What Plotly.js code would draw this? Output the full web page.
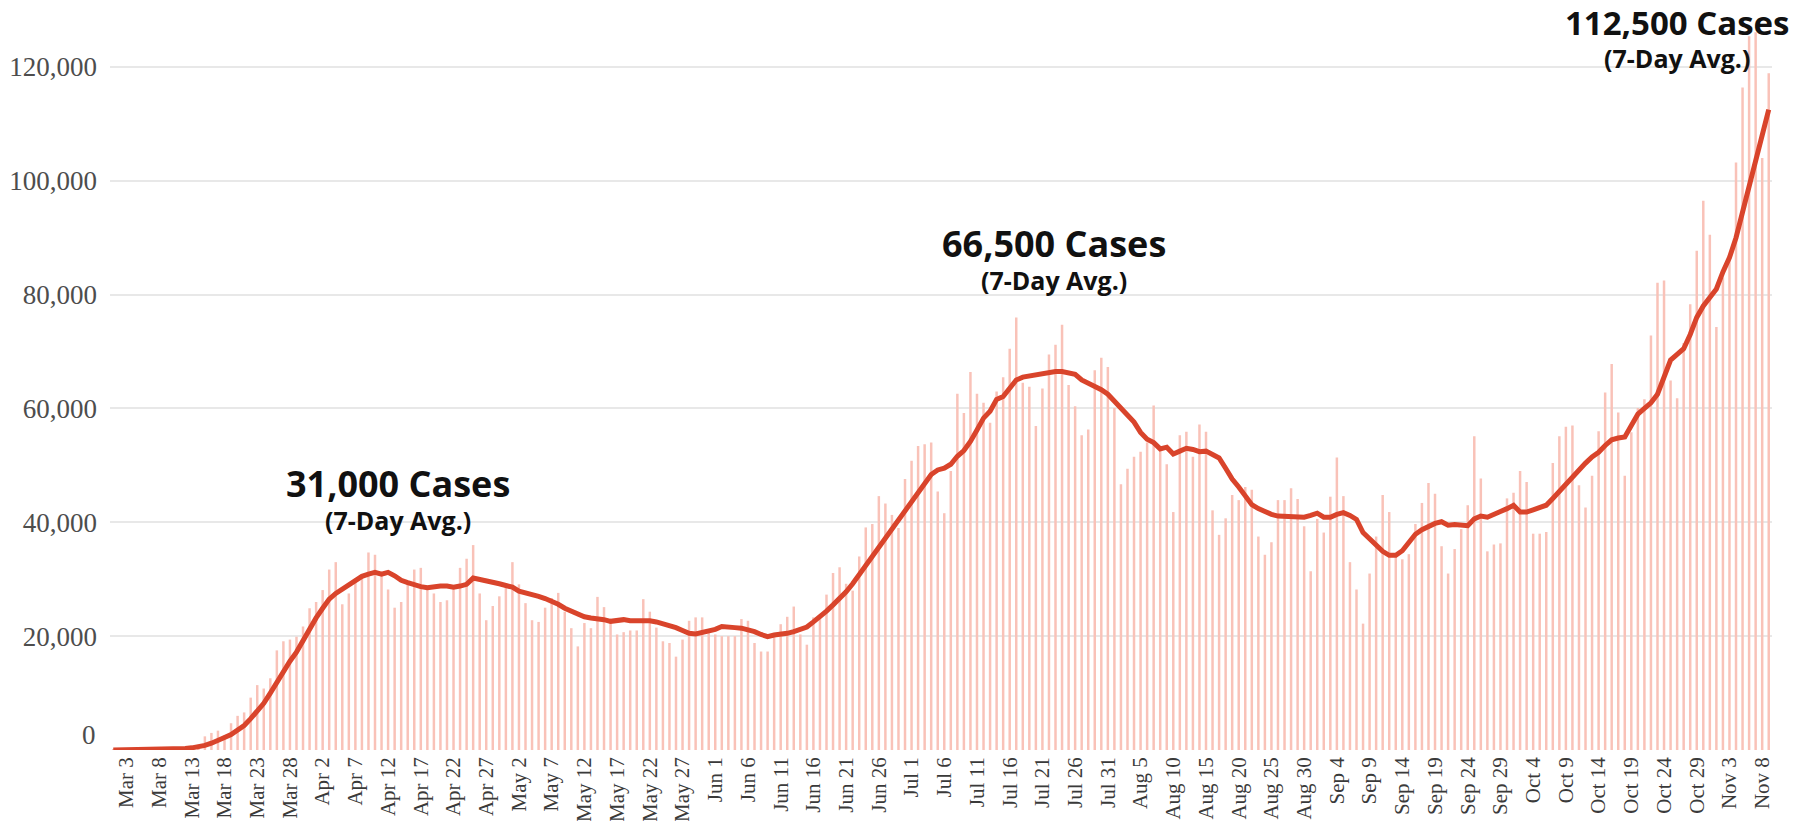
<!DOCTYPE html>
<html>
<head>
<meta charset="utf-8">
<script src="https://cdn.plot.ly/plotly-3.0.1.min.js"></script>
<style>
html,body{margin:0;padding:0;background:#fff;}
#chart{width:1799px;height:821px;}
</style>
</head>
<body>
<div id="chart"></div>
<script>
// Category labels (days)
const monthNames = ["Mar","Apr","May","Jun","Jul","Aug","Sep","Oct","Nov"];
const monthDays  = [31,30,31,30,31,31,30,31,9];

// Daily new cases
const marCases = [20,30,40,50,70,90,120,160,200,300,400,500,700,900,2400,3000,3400,2600,4700,6000,6600,9200,11400,10800,12600,17500,19100,19400,19900,21700,24900];
const aprCases = [26000,28100,31700,33000,25600,27500,30100,30900,34700,34300,31000,28200,25000,26000,29200,31700,32000,28300,27500,26000,26300,28600,32000,33600,36000,27500,22800,25300,27000,28600];
const mayCases = [33000,29100,25800,22800,22500,25000,26700,27600,24300,21400,18200,22300,21400,26900,25100,22600,20300,20700,21000,21000,26500,24300,21500,19100,18800,16400,19400,22700,23300,23300,20900];
const junCases = [20300,20000,20000,20000,23000,22700,18800,17300,17300,20300,22100,23400,25200,20300,18500,23300,23500,27300,31100,32100,29200,28000,34000,39100,39700,44600,43300,41300,39000,47600];
const julCases = [50800,53400,53700,54000,45400,41600,49000,62600,59200,66400,62600,61000,57500,63000,65500,70500,76000,64500,63800,56900,63500,69500,71200,74700,64100,60400,55300,56300,66700,68900,67300];
const augCases = [60100,46700,49400,51500,52400,54000,60500,52500,50200,41800,55300,55900,51500,57200,55900,42100,37800,40700,44800,43900,46200,45700,37500,34300,36500,43900,43900,46000,44100,39300,31400];
const sepCases = [40600,38200,44500,51400,44600,33000,28200,22200,31000,37500,44800,41800,34400,33500,34400,39700,43400,46900,45000,35800,31000,35300,38800,43000,55100,47700,34900,36100,36300,44200];
const octCases = [45200,49000,47100,38000,38000,38300,50400,55100,56800,57000,46500,42600,48200,56000,62800,67800,59300,48200,55800,60100,61600,72800,82100,82500,64900,61800,71500,78300,87700,96500,90500];
const novCases = [74300,83000,87000,103200,116400,125400,126100,104000,118900];

// 7-day average line
const marAvg = [10,15,20,25,35,45,60,80,110,150,200,280,380,500,800,1200,1600,2200,2700,3400,4300,5500,6800,8200,10000,11900,13900,15600,17200,19200,21400];
const aprAvg = [23200,24900,26500,27500,28200,29000,29800,30500,30900,31200,30900,31200,30600,29800,29400,29000,28700,28500,28700,28800,28800,28600,28800,29100,30200,30000,29700,29500,29200,28900];
const mayAvg = [28600,27900,27600,27500,27000,26600,26200,25600,24900,24400,23800,23400,23200,23100,22900,22600,22800,22900,22700,22700,22800,22700,22500,22200,22000,21500,21000,20500,20400,20600,20900];
const junAvg = [21200,21700,21700,21500,21400,21200,20800,20300,19900,20200,20300,20500,20800,21200,21600,22500,23400,24400,25500,26600,27800,29200,30800,32500,34100,35600,37000,38600,40200,41800];
const julAvg = [43500,45200,46900,48400,49200,49500,50200,51600,52600,54200,56200,58300,59500,61600,62100,63500,65000,65500,65700,65800,66000,66400,66500,66500,66300,66000,65000,64400,64000,63300,62500];
const augAvg = [61300,60000,58800,57600,55800,54600,54000,52900,53200,52000,52500,53000,52800,52400,52500,51900,51300,49500,47600,46200,44600,43100,42400,41800,41400,41100,41100,41000,41100,40900,41200];
const sepAvg = [41600,40900,40900,41400,41700,41200,40500,38200,37000,36000,34900,34200,34200,35000,36600,37900,38700,39300,39800,40100,39500,39600,39600,39400,40600,41100,40900,41500,41900,42400];
const octAvg = [43000,41800,41800,42200,42600,43000,44200,45500,46800,47900,49200,50400,51500,52300,53500,54500,54800,55000,57000,59000,60000,61000,62500,65500,68500,69500,70500,73000,76000,78000,79500];
const novAvg = [81000,84000,86500,90000,94500,99000,103500,108000,112500];

// Axis tick labels
const xTickLabels = ["Mar 3","Mar 8","Mar 13","Mar 18","Mar 23","Mar 28","Apr 2","Apr 7","Apr 12","Apr 17","Apr 22","Apr 27","May 2","May 7","May 12","May 17","May 22","May 27","Jun 1","Jun 6","Jun 11","Jun 16","Jun 21","Jun 26","Jul 1","Jul 6","Jul 11","Jul 16","Jul 21","Jul 26","Jul 31","Aug 5","Aug 10","Aug 15","Aug 20","Aug 25","Aug 30","Sep 4","Sep 9","Sep 14","Sep 19","Sep 24","Sep 29","Oct 4","Oct 9","Oct 14","Oct 19","Oct 24","Oct 29","Nov 3","Nov 8"];
const yTickVals = [20000,40000,60000,80000,100000,120000];
const yTickText = ["20,000","40,000","60,000","80,000","100,000","120,000"];

// Peak labels
const peakTitles = ["31,000 Cases","66,500 Cases","112,500 Cases"];
const peakSub = "(7-Day Avg.)";

const dates = [];
monthNames.forEach((m, i) => { for (let d = 1; d <= monthDays[i]; d++) dates.push(m + " " + d); });
const dailyCases = [].concat(marCases, aprCases, mayCases, junCases, julCases, augCases, sepCases, octCases, novCases);
const avgCases = [].concat(marAvg, aprAvg, mayAvg, junAvg, julAvg, augAvg, sepAvg, octAvg, novAvg);

const traces = [
  {type: "bar", x: dates, y: dailyCases, marker: {color: "#f9c2b8", line: {width: 0}}, hoverinfo: "x+y"},
  {type: "scatter", mode: "lines", x: dates, y: avgCases, line: {color: "#d9442b", width: 5}, hoverinfo: "x+y"}
];

function peakNote(title, x, y, titleSize) {
  return {
    text: "<span style='font-size:" + titleSize + "px'><b>" + title + "</b></span><br><b>" + peakSub + "</b>",
    xref: "paper", yref: "paper", x: x, y: y, xanchor: "center", yanchor: "middle",
    showarrow: false, align: "center",
    font: {family: "Open Sans", size: 25, color: "#111"}
  };
}

const layout = {
  width: 1799, height: 821,
  margin: {l: 110, r: 27, t: 10, b: 71},
  paper_bgcolor: "#fff", plot_bgcolor: "#fff",
  showlegend: false,
  bargap: 0.62,
  xaxis: {
    type: "category", range: [-0.5, 253.5],
    tickmode: "array", tickvals: xTickLabels, ticktext: xTickLabels,
    tickangle: -90, tickfont: {family: "Liberation Serif", size: 21, color: "#3a3a3a"},
    showgrid: false, zeroline: false, showline: false, ticks: "", ticklabelstandoff: 2
  },
  yaxis: {
    range: [0, 130000], tickmode: "array", tickvals: yTickVals, ticktext: yTickText,
    tickfont: {family: "Liberation Serif", size: 27, color: "#4d4d4d"},
    showgrid: true, gridcolor: "#e8e8e8", gridwidth: 1.5,
    zeroline: false, showline: false, ticks: "", ticklabelstandoff: 12
  },
  annotations: [
    {text: "0", xref: "paper", yref: "paper", x: -0.0075, y: 0.0203, xanchor: "right", yanchor: "middle", showarrow: false,
     font: {family: "Liberation Serif", size: 27, color: "#4d4d4d"}},
    peakNote(peakTitles[0], 0.1733, 0.341, 36),
    peakNote(peakTitles[1], 0.568, 0.665, 36),
    peakNote(peakTitles[2], 0.943, 0.963, 33)
  ]
};

Plotly.newPlot("chart", traces, layout, {displayModeBar: false, responsive: false});
</script>
</body>
</html>
